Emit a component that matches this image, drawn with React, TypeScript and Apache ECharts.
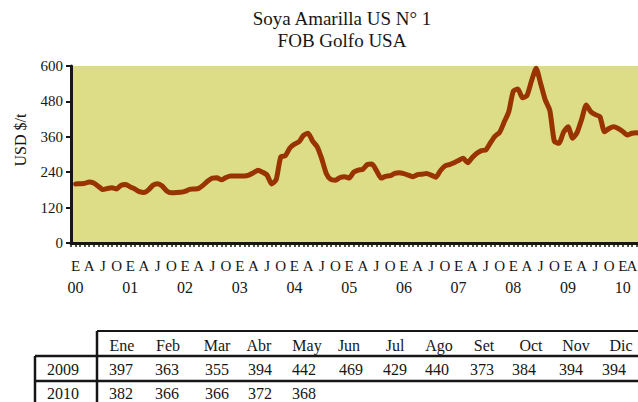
import React, { useEffect, useRef } from "react";
import * as echarts from "echarts";

// Month initials used on the x axis (Spanish)
const monthLetters = ["E", "F", "M", "A", "M", "J", "J", "A", "S", "O", "N", "D"];

// Monthly prices (USD/t)
const p2000 = [200, 201, 202, 207, 203, 192, 181, 185, 187, 183, 196, 198];
const p2001 = [190, 183, 174, 171, 180, 196, 201, 193, 176, 170, 171, 172];
const p2002 = [175, 182, 183, 185, 196, 210, 220, 221, 214, 222, 227, 227];
const p2003 = [227, 227, 230, 238, 247, 240, 230, 200, 215, 292, 296, 322];
const p2004 = [335, 343, 365, 372, 345, 326, 285, 235, 215, 213, 222, 225];
const p2005 = [220, 240, 247, 250, 266, 268, 245, 220, 226, 228, 236, 238];
const p2006 = [235, 230, 225, 232, 233, 236, 230, 223, 245, 261, 266, 272];
const p2007 = [280, 287, 272, 290, 304, 313, 316, 340, 362, 375, 410, 445];
const p2008 = [515, 522, 492, 500, 550, 592, 540, 485, 450, 345, 338, 375];
const p2009 = [394, 355, 375, 420, 468, 445, 435, 428, 377, 388, 394, 388];
const p2010 = [378, 366, 372, 374, 370];

const yearlySeries = [p2000, p2001, p2002, p2003, p2004, p2005, p2006, p2007, p2008, p2009, p2010];
const firstYear = 2000;

// Table
const tableMonths = ["Ene", "Feb", "Mar", "Abr", "May", "Jun", "Jul", "Ago", "Set", "Oct", "Nov", "Dic"];
const tableYears = ["2009", "2010"];
const table2009 = [397, 363, 355, 394, 442, 469, 429, 440, 373, 384, 394, 394];
const table2010 = [382, 366, 366, 372, 368];

const yTicks = { min: 0, max: 600, interval: 120 };

const FONT = '"Liberation Serif", "Times New Roman", serif';
const INK = "#161616";

export default function App() {
  const ref = useRef<HTMLDivElement>(null);

  useEffect(() => {
    if (!ref.current) return;
    const chart = echarts.init(ref.current, undefined, { renderer: "svg" });

    const categories: string[] = ["1999-12"];
    const values: (number | null)[] = [null];
    yearlySeries.forEach((arr, yi) => {
      arr.forEach((v, mi) => {
        const mm = String(mi + 1).padStart(2, "0");
        categories.push(`${firstYear + yi}-${mm}`);
        values.push(v);
      });
    });
    // last labelled month sits at the clipped right edge: drawn separately, nudged inside
    let lastLabelled = 1;
    for (let i = 1; i < categories.length; i++) if ((i - 1) % 3 === 0) lastLabelled = i;
    const lastLetter = monthLetters[(lastLabelled - 1) % 12];

    const headerX = [122, 168, 217, 259, 307, 349, 395, 439, 484, 531, 576, 621];
    const valueX = [121, 167, 217, 260, 304, 351, 395, 437, 482, 524, 571, 614];
    const rowsY = [369, 393];
    const rows = [table2009, table2010];

    const txt = (text: string, x: number, y: number, size: number, extra: any = {}) => ({
      type: "text",
      x,
      y,
      ...extra,
      style: {
        text,
        fontSize: size,
        fontFamily: FONT,
        fill: INK,
        align: "center",
        verticalAlign: "middle",
        textAlign: "center",
        textVerticalAlign: "middle",
      },
    });
    const ln = (x1: number, y1: number, x2: number, y2: number, w: number) => ({
      type: "line",
      shape: { x1, y1, x2, y2 },
      style: { stroke: INK, lineWidth: w },
    });

    const graphics: any[] = [
      txt("Soya Amarilla US N° 1", 342, 18, 19),
      txt("FOB Golfo USA", 342, 40, 19),
      txt("USD $/t", 20, 140, 16, { rotation: Math.PI / 2 }),
      txt(lastLetter, 632, 266, 15),
      ln(97, 331, 660, 331, 2),
      ln(97, 331, 97, 410, 2.5),
      ln(35, 356, 660, 356, 2.5),
      ln(35, 381, 660, 381, 2.5),
      ln(35, 356, 35, 410, 2.5),
    ];
    tableMonths.forEach((m, i) => graphics.push(txt(m, headerX[i], 345, 16)));
    tableYears.forEach((y, r) => graphics.push(txt(y, 63, rowsY[r], 16)));
    rows.forEach((row, r) =>
      row.forEach((v, i) => graphics.push(txt(String(v), valueX[i], rowsY[r], 16)))
    );

    chart.setOption({
      animation: false,
      backgroundColor: "#ffffff",
      grid: {
        left: 71,
        top: 66,
        width: 570,
        height: 177,
        show: true,
        backgroundColor: "#dddd88",
        borderWidth: 0,
      },
      xAxis: {
        type: "category",
        data: categories,
        boundaryGap: false,
        axisLine: { show: true, lineStyle: { color: INK, width: 3 } },
        axisTick: { show: true, interval: 0, length: 4, lineStyle: { color: INK, width: 1.5 } },
        splitLine: { show: false },
        axisLabel: {
          interval: (index: number) =>
            index >= 1 && index < lastLabelled && (index - 1) % 3 === 0,
          showMaxLabel: true,
          showMinLabel: true,
          margin: 13,
          color: INK,
          fontFamily: FONT,
          formatter: (value: string, index: number) => {
            const m = (index - 1) % 12;
            const letter = monthLetters[m];
            if (m === 0) return `{m|${letter}}\n{y|${value.slice(2, 4)}}`;
            return `{m|${letter}}`;
          },
          rich: {
            m: { fontSize: 15, lineHeight: 20, fontFamily: FONT, color: INK },
            y: { fontSize: 16, lineHeight: 22, fontFamily: FONT, color: INK },
          },
        },
      },
      yAxis: {
        type: "value",
        min: yTicks.min,
        max: yTicks.max,
        interval: yTicks.interval,
        axisLine: { show: true, lineStyle: { color: INK, width: 3 } },
        axisTick: { show: true, length: 5, lineStyle: { color: INK, width: 2 } },
        splitLine: { show: false },
        axisLabel: { fontSize: 15, fontFamily: FONT, color: INK, margin: 8 },
      },
      series: [
        {
          type: "line",
          data: values,
          showSymbol: false,
          smooth: 0.2,
          lineStyle: { color: "#993300", width: 5, join: "round", cap: "round" },
          z: 3,
        },
      ],
      graphic: graphics,
    });

    return () => chart.dispose();
  }, []);

  return (
    <div
      style={{
        position: "absolute",
        left: 0,
        top: 0,
        width: 638,
        height: 402,
        overflow: "hidden",
        background: "#fff",
      }}
    >
      <div ref={ref} style={{ width: 660, height: 402 }} />
    </div>
  );
}
